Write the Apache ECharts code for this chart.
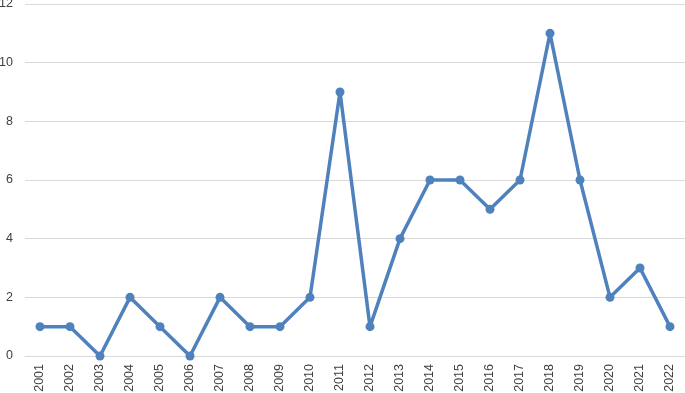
<!DOCTYPE html>
<html><head><meta charset="utf-8">
<script src="https://cdn.jsdelivr.net/npm/echarts@6/dist/echarts.min.js"></script>
<style>html,body{margin:0;padding:0;background:#fff}#c{width:685px;height:393px}</style>
</head><body><div id="c"></div>
<script>
const years = ['2001','2002','2003','2004','2005','2006','2007','2008','2009','2010','2011','2012','2013','2014','2015','2016','2017','2018','2019','2020','2021','2022'];
const counts = [1,1,0,2,1,0,2,1,1,2,9,1,4,6,6,5,6,11,6,2,3,1];
const yTicks = {min:0, max:12, interval:2};
const chart = echarts.init(document.getElementById('c'));
chart.setOption({
  animation:false,
  grid:{left:25, right:0, top:4, bottom:37, containLabel:false, outerBoundsMode:'none'},
  xAxis:{type:'category', data:years, boundaryGap:true,
    axisLine:{show:true, lineStyle:{color:'#d9d9d9'}}, axisTick:{show:false},
    axisLabel:{rotate:90, color:'#404040', fontSize:12.5, fontFamily:'Liberation Sans', margin:8}},
  yAxis:{type:'value', min:yTicks.min, max:yTicks.max, interval:yTicks.interval,
    axisLine:{show:false}, axisTick:{show:false},
    splitLine:{lineStyle:{color:'#d9d9d9', width:1}},
    axisLabel:{color:'#404040', fontSize:12.5, fontFamily:'Liberation Sans', margin:12}},
  series:[{type:'line', data:counts, symbol:'circle', symbolSize:9,
    lineStyle:{color:'#4f81bd', width:3.5}, itemStyle:{color:'#4f81bd'}}]
});
</script></body></html>
